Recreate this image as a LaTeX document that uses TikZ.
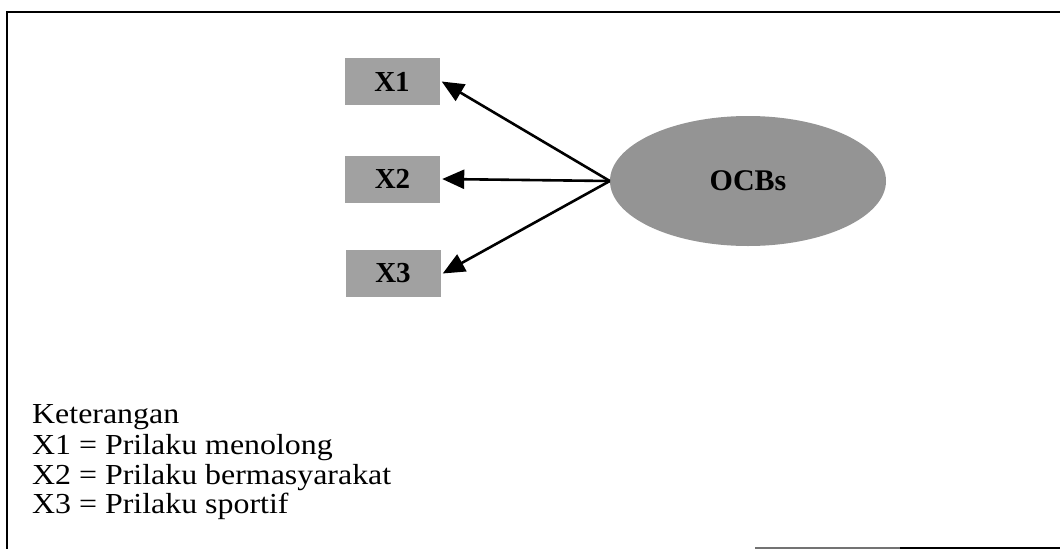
\documentclass[tikz,border=0pt]{standalone}
\usepackage{fontspec}
\setmainfont{Liberation Serif}
\newfontfamily\legendfont[FakeStretch=1.1]{Liberation Serif}
\usetikzlibrary{arrows.meta,shapes.geometric}

\tikzset{
  varbox/.style={draw=none, fill=black!37, minimum width=95pt, minimum height=47pt,
    inner sep=0pt, font=\fontsize{29}{30}\selectfont\bfseries},
  latent/.style={ellipse, draw=none, fill=black!42, minimum width=276pt, minimum height=130pt,
    inner sep=0pt, font=\fontsize{30}{30}\selectfont\bfseries},
  path/.style={line width=2.6pt, -{Triangle[length=22pt,width=19pt]}},
  legend/.style={anchor=base west, inner sep=0pt, font=\legendfont\fontsize{29}{30}\selectfont},
  frame/.style={line width=2pt}
}

\begin{document}
\begin{tikzpicture}[x=1pt, y=-1pt]
  \useasboundingbox (0,0) rectangle (1060,549);

  % open frame: top and left edges, partial bottom edge
  \draw[frame] (1060,12) -- (7,12) -- (7,549);
  \draw[frame, black!55] (755,548) -- (900,548);
  \draw[frame] (900,548) -- (1060,548);

  % indicators
  \node[varbox] (x1) at (392,81.5) {X1};
  \node[varbox] (x2) at (392.5,179) {X2};
  \node[varbox] (x3) at (393,273.5) {X3};

  % latent construct
  \node[latent] (ocb) at (748,181) {OCBs};

  % loadings
  \draw[path] (ocb.west) -- ([xshift=2pt]x1.east);
  \draw[path] (ocb.west) -- ([xshift=2pt]x2.east);
  \draw[path] (ocb.west) -- ([xshift=2pt]x3.east);

  % legend
  \node[legend] (k0) at (32,423) {Keterangan};
  \node[legend] (k1) at (32,454) {X1 = Prilaku menolong};
  \node[legend] (k2) at (32,484) {X2 = Prilaku bermasyarakat};
  \node[legend] (k3) at (32,513) {X3 = Prilaku sportif};
\end{tikzpicture}
\end{document}
